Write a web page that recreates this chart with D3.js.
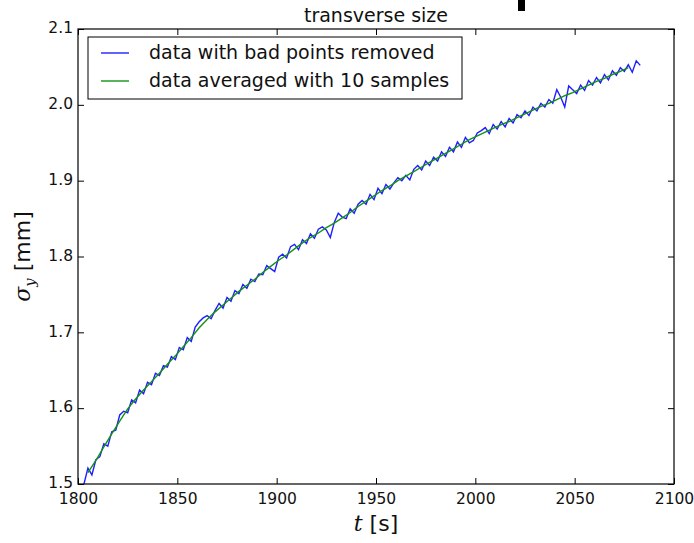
<!DOCTYPE html>
<html>
<head>
<meta charset="utf-8">
<script src="https://cdn.jsdelivr.net/npm/d3@7"></script>
<style>
  body { margin: 0; background: #fff; }
  svg { display: block; font-family: "DejaVu Sans", sans-serif; }
</style>
</head>
<body>
<svg id="chart" width="694" height="543"></svg>
<script>
// raw samples, one every 2 s starting at 1803 s
let rawStart = 1803
let rawStep = 2
let rawValues = [
  1.500, 1.521, 1.512, 1.532, 1.536, 1.553, 1.550, 1.569, 1.571, 1.591,
  1.596, 1.594, 1.611, 1.607, 1.624, 1.619, 1.634, 1.631, 1.646, 1.643,
  1.656, 1.654, 1.668, 1.664, 1.680, 1.677, 1.693, 1.688, 1.707, 1.714,
  1.719, 1.722, 1.718, 1.729, 1.738, 1.732, 1.746, 1.741, 1.755, 1.751,
  1.763, 1.758, 1.770, 1.767, 1.777, 1.776, 1.788, 1.784, 1.780, 1.799,
  1.803, 1.798, 1.813, 1.816, 1.809, 1.822, 1.817, 1.830, 1.824, 1.836,
  1.839, 1.835, 1.825, 1.845, 1.857, 1.852, 1.850, 1.863, 1.857, 1.869,
  1.874, 1.869, 1.882, 1.875, 1.890, 1.883, 1.895, 1.889, 1.897, 1.904,
  1.900, 1.907, 1.901, 1.915, 1.920, 1.914, 1.926, 1.920, 1.931, 1.926,
  1.938, 1.932, 1.944, 1.938, 1.951, 1.944, 1.957, 1.950, 1.953, 1.963,
  1.966, 1.970, 1.962, 1.974, 1.968, 1.978, 1.971, 1.982, 1.976, 1.987,
  1.983, 1.992, 1.986, 1.997, 1.992, 2.002, 1.997, 2.007, 2.002, 2.020,
  2.010, 1.997, 2.025, 2.020, 2.015, 2.026, 2.019, 2.032, 2.026, 2.036,
  2.029, 2.040, 2.033, 2.045, 2.039, 2.049, 2.044, 2.053, 2.043, 2.058,
  2.052
]

// averaged curve, one point every 4 s starting at 1805 s
let avgStart = 1805
let avgStep = 4
let avgValues = [
  1.515, 1.531, 1.549, 1.566, 1.583, 1.599, 1.612, 1.624, 1.635, 1.646,
  1.658, 1.669, 1.681, 1.693, 1.706, 1.717, 1.727, 1.736, 1.745, 1.754,
  1.762, 1.770, 1.779, 1.787, 1.795, 1.802, 1.810, 1.818, 1.825, 1.831,
  1.838, 1.844, 1.851, 1.858, 1.866, 1.873, 1.880, 1.887, 1.893, 1.900,
  1.906, 1.912, 1.918, 1.924, 1.930, 1.936, 1.942, 1.948, 1.954, 1.959,
  1.964, 1.969, 1.974, 1.978, 1.983, 1.988, 1.993, 1.998, 2.002, 2.007,
  2.012, 2.016, 2.021, 2.026, 2.031, 2.035, 2.040, 2.044, 2.049
]

let xTicks = [1800, 1850, 1900, 1950, 2000, 2050, 2100]
let yTicks = [1.5, 1.6, 1.7, 1.8, 1.9, 2.0, 2.1]
let legendLabels = ["data with bad points removed", "data averaged with 10 samples"]
let lineColors = ["#1f1fff", "#139213"]

let rawData = rawValues.map((v, i) => ({t: rawStart + i * rawStep, v: v}))
let avgData = avgValues.map((v, i) => ({t: avgStart + i * avgStep, v: v}))

let margins = {top: 29, right: 20, bottom: 59, left: 78}
let width = 694 - margins.left - margins.right
let height = 543 - margins.top - margins.bottom

let svg = d3.select("#chart")

// small black mark at the top of the picture
svg.append("rect").attr("x", 518).attr("y", 0).attr("width", 7).attr("height", 11).attr("fill", "#000")

let g = svg.append("g").attr("transform", `translate(${margins.left},${margins.top})`)

let x = d3.scaleLinear().domain([1800, 2100]).range([0, width])
let y = d3.scaleLinear().domain([1.5, 2.1]).range([height, 0])

g.append("clipPath").attr("id", "clip")
  .append("rect").attr("width", width).attr("height", height)

let line = d3.line().x(d => x(d.t)).y(d => y(d.v))

let plot = g.append("g").attr("clip-path", "url(#clip)")
plot.append("path").datum(rawData)
  .attr("d", line).attr("fill", "none")
  .attr("stroke", lineColors[0]).attr("stroke-width", 1.4)
plot.append("path").datum(avgData)
  .attr("d", line).attr("fill", "none")
  .attr("stroke", lineColors[1]).attr("stroke-width", 1.4)

// axes, ticks pointing inwards on all four sides
let xAxis = g.append("g").attr("transform", `translate(0,${height})`)
  .call(d3.axisBottom(x).tickValues(xTicks).tickFormat(d3.format("d")).tickSizeInner(-6).tickSizeOuter(0).tickPadding(8.5))
let xTop = g.append("g")
  .call(d3.axisTop(x).tickValues(xTicks).tickFormat("").tickSizeInner(-6).tickSizeOuter(0))
let yAxis = g.append("g")
  .call(d3.axisLeft(y).tickValues(yTicks).tickFormat(d3.format(".1f")).tickSizeInner(-6).tickSizeOuter(0).tickPadding(5))
let yRight = g.append("g").attr("transform", `translate(${width},0)`)
  .call(d3.axisRight(y).tickValues(yTicks).tickFormat("").tickSizeInner(-6).tickSizeOuter(0))

g.selectAll(".domain").remove()
g.selectAll(".tick line").attr("stroke", "#000").attr("stroke-width", 1)
g.selectAll(".tick text").attr("font-size", "15.5px").attr("fill", "#111")
  .attr("font-family", "DejaVu Sans")
yAxis.selectAll(".tick text").attr("dy", "0.24em")

g.append("rect").attr("width", width).attr("height", height)
  .attr("fill", "none").attr("stroke", "#000").attr("stroke-width", 1.2)

// title
svg.append("text").attr("x", margins.left + width / 2).attr("y", 21.5)
  .attr("text-anchor", "middle").attr("font-size", "19px").attr("fill", "#111")
  .text("transverse size")

// x label
let xl = svg.append("text").attr("x", margins.left + width / 2).attr("y", 531)
  .attr("text-anchor", "middle").attr("font-size", "22px").attr("fill", "#111")
xl.append("tspan").attr("font-family", "DejaVu Serif").attr("font-style", "italic").text("t")
xl.append("tspan").text(" [s]")

// y label
let yl = svg.append("text")
  .attr("transform", `translate(30,${margins.top + height / 2}) rotate(-90)`)
  .attr("text-anchor", "middle").attr("font-size", "22px").attr("fill", "#111")
yl.append("tspan").attr("font-family", "DejaVu Serif").attr("font-style", "italic").text("σ")
yl.append("tspan").attr("font-family", "DejaVu Serif").attr("font-style", "italic")
  .attr("font-size", "15px").attr("dy", "5").text("y")
yl.append("tspan").attr("dy", "-5").text(" [mm]")

// legend
let legend = svg.append("g")
legend.append("rect").attr("x", 88).attr("y", 37).attr("width", 374).attr("height", 62)
  .attr("fill", "#fff").attr("stroke", "#000").attr("stroke-width", 1)
legendLabels.forEach((label, i) => {
  let ly = 53 + i * 28
  legend.append("line").attr("x1", 101).attr("x2", 129).attr("y1", ly).attr("y2", ly)
    .attr("stroke", lineColors[i]).attr("stroke-width", 1.4)
  legend.append("text").attr("x", 149).attr("y", ly + 5.5)
    .attr("font-size", "19px").attr("fill", "#111").text(label)
})
</script>
</body>
</html>
